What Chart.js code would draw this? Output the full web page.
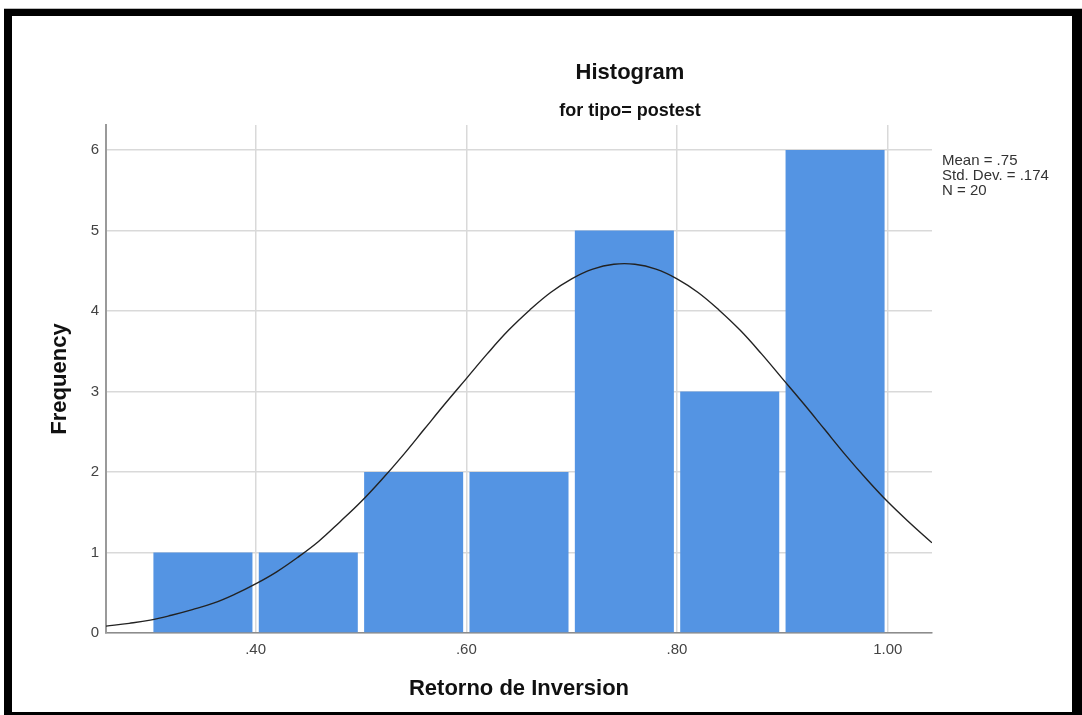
<!DOCTYPE html>
<html>
<head>
<meta charset="utf-8">
<script src="https://cdn.jsdelivr.net/npm/chart.js@4.4.1/dist/chart.umd.min.js"></script>
<style>
  html, body { margin: 0; padding: 0; background: #fff; }
  #wrap { width: 1082px; height: 715px; }
</style>
</head>
<body>
<div id="wrap"><canvas id="hist" width="1082" height="715"></canvas></div>
<script>
// histogram bins (centre of each 0.1 wide bin) and counts
const binCenters = [0.35, 0.45, 0.55, 0.65, 0.75, 0.85, 0.95];
const frequencies = [1, 1, 2, 2, 5, 3, 6];

// normal curve overlay
const curveX = [0.258, 0.28, 0.30, 0.32, 0.34, 0.36, 0.38, 0.40, 0.42, 0.44, 0.46, 0.48, 0.50,
  0.52, 0.54, 0.56, 0.58, 0.60, 0.62, 0.64, 0.66, 0.68, 0.70, 0.72, 0.74, 0.76, 0.78, 0.80,
  0.82, 0.84, 0.86, 0.88, 0.90, 0.92, 0.94, 0.96, 0.98, 1.00, 1.02, 1.042];
const curveY = [0.085, 0.12, 0.16, 0.22, 0.29, 0.37, 0.48, 0.61, 0.76, 0.94, 1.14, 1.38, 1.63,
  1.91, 2.21, 2.53, 2.85, 3.16, 3.47, 3.76, 4.01, 4.23, 4.40, 4.52, 4.58, 4.58, 4.52, 4.40,
  4.23, 4.01, 3.76, 3.47, 3.16, 2.85, 2.53, 2.21, 1.91, 1.63, 1.38, 1.12];

const xTicks = [0.4, 0.6, 0.8, 1.0];
const yTicks = [0, 1, 2, 3, 4, 5, 6];
const statsLines = ['Mean = .75', 'Std. Dev. = .174', 'N = 20'];
const titleText = 'Histogram';
const subtitleText = 'for tipo= postest';

const FONT = '"Liberation Sans", Arial, sans-serif';

// titles, stats box and the black picture frame
const decor = {
  id: 'decor',
  afterDraw(chart) {
    const ctx = chart.ctx;
    ctx.save();
    ctx.fillStyle = '#111';
    ctx.textAlign = 'center';
    ctx.textBaseline = 'alphabetic';
    ctx.font = 'bold 22px ' + FONT;
    ctx.fillText(titleText, 630, 79);
    ctx.font = 'bold 18px ' + FONT;
    ctx.fillText(subtitleText, 630, 116);

    ctx.fillStyle = '#333';
    ctx.textAlign = 'left';
    ctx.font = '15px ' + FONT;
    statsLines.forEach((s, i) => ctx.fillText(s, 942, 165 + i * 14.8));

    ctx.fillStyle = '#000';
    ctx.fillRect(4, 9, 8, 706);
    ctx.fillRect(4, 9, 1078, 7);
    ctx.fillRect(1072, 9, 10, 706);
    ctx.fillRect(4, 712, 1078, 3);
    ctx.fillStyle = '#bbb';
    ctx.fillRect(4, 8, 1078, 1);
    ctx.restore();
  }
};

new Chart(document.getElementById('hist'), {
  type: 'bar',
  data: {
    datasets: [
      {
        type: 'line',
        data: curveX.map((x, i) => ({ x, y: curveY[i] })),
        borderColor: '#222',
        borderWidth: 1.4,
        pointRadius: 0,
        tension: 0.4,
        order: 0,
      },
      {
        type: 'bar',
        data: binCenters.map((x, i) => ({ x, y: frequencies[i] })),
        backgroundColor: '#5494e3',
        borderWidth: 0,
        barPercentage: 0.94,
        categoryPercentage: 1,
        grouped: false,
        order: 1,
      },
    ],
  },
  options: {
    responsive: false,
    devicePixelRatio: 1,
    animation: false,
    layout: { padding: { left: 0, right: 150, top: 125, bottom: 0 } },
    plugins: { legend: { display: false }, tooltip: { enabled: false } },
    scales: {
      x: {
        type: 'linear',
        min: 0.258,
        max: 1.042,
        offset: false,
        afterBuildTicks: (s) => { s.ticks = xTicks.map(v => ({ value: v })); },
        afterFit: (s) => { s.height = 82; },
        grid: { color: '#d9d9d9', lineWidth: 1.5, drawTicks: false, offset: false },
        border: { color: '#8c8c8c', width: 1.5 },
        ticks: {
          color: '#444',
          padding: 8,
          font: { family: FONT, size: 15 },
          callback: (v) => v.toFixed(2).replace(/^0/, ''),
        },
        title: {
          display: true,
          text: 'Retorno de Inversion',
          color: '#111',
          font: { family: FONT, size: 22, weight: 'bold' },
          padding: { top: 0, bottom: 13 },
        },
      },
      y: {
        min: 0,
        max: 6.31,
        afterBuildTicks: (s) => { s.ticks = yTicks.map(v => ({ value: v })); },
        afterFit: (s) => { s.width = 106; },
        grid: { color: '#d9d9d9', lineWidth: 1.5, drawTicks: false },
        border: { color: '#9a9a9a', width: 2 },
        ticks: {
          color: '#444',
          padding: 7,
          font: { family: FONT, size: 15 },
        },
        title: {
          display: true,
          text: 'Frequency',
          color: '#111',
          font: { family: FONT, size: 22, weight: 'bold' },
          padding: { top: 47, bottom: 0 },
        },
      },
    },
  },
  plugins: [decor],
});
</script>
</body>
</html>
